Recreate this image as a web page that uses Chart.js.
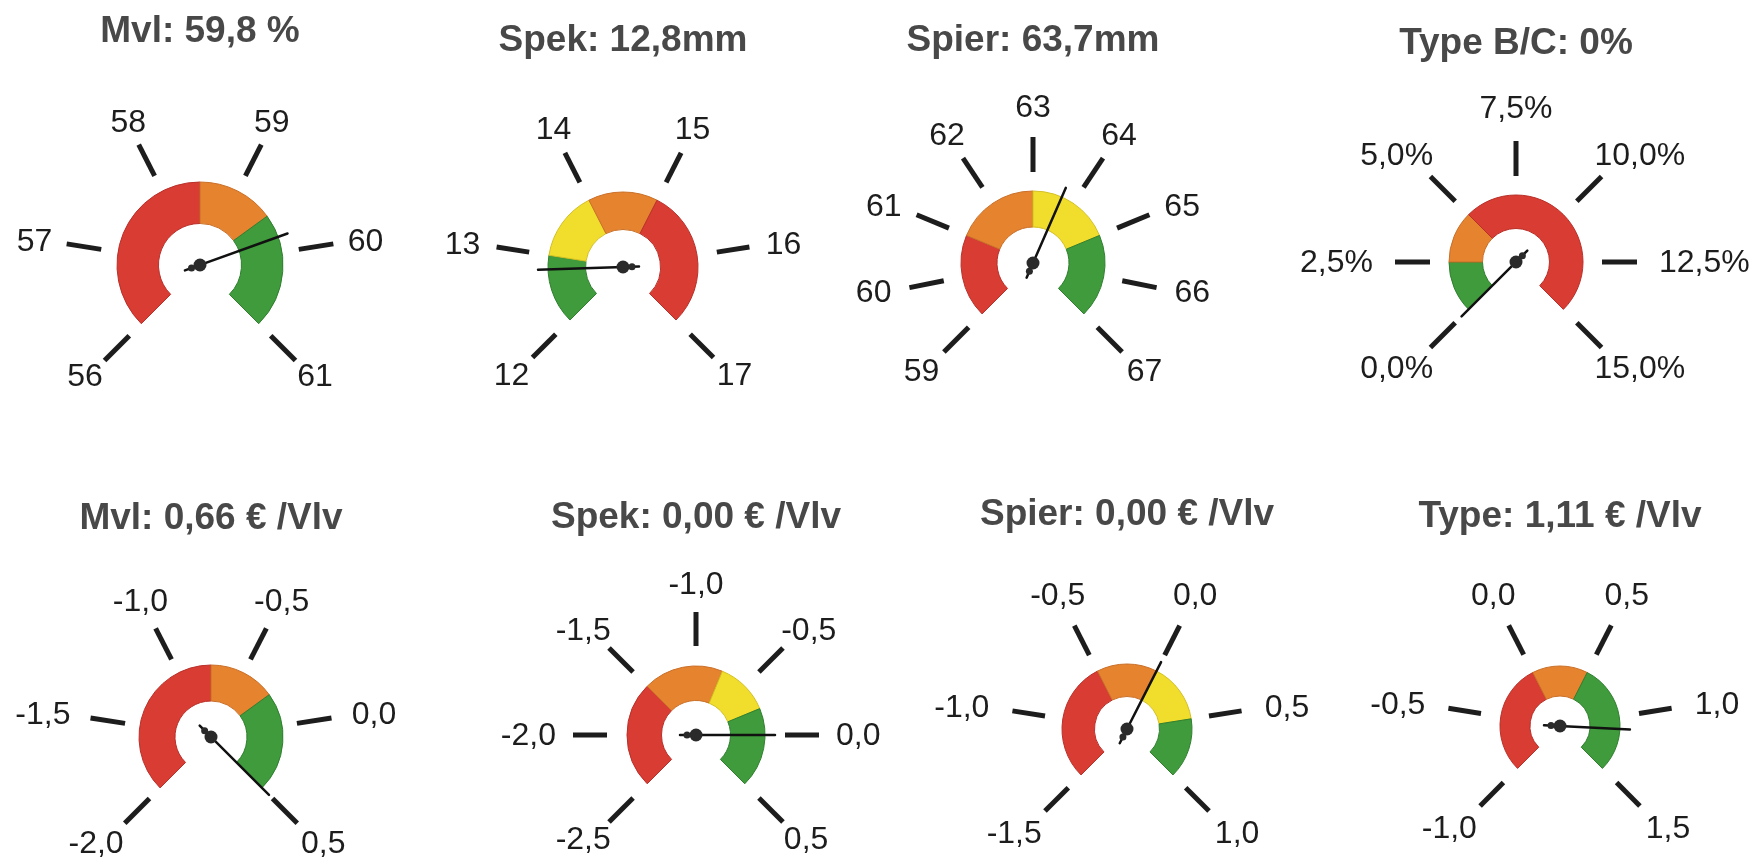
<!DOCTYPE html>
<html>
<head>
<meta charset="utf-8">
<title>Gauges</title>
<script src="https://cdn.jsdelivr.net/npm/chart.js@4.4.1/dist/chart.umd.min.js"></script>
<style>
  html, body { margin: 0; padding: 0; background: #fff; overflow: hidden; }
  #board { position: relative; width: 1753px; height: 868px; }
  #board canvas { position: absolute; }
</style>
</head>
<body>
<div id="board"></div>
<script>
// ---- data ----
const titles = [
  'Mvl: 59,8 %', 'Spek: 12,8mm', 'Spier: 63,7mm', 'Type B/C: 0%',
  'Mvl: 0,66 € /Vlv', 'Spek: 0,00 € /Vlv', 'Spier: 0,00 € /Vlv', 'Type: 1,11 € /Vlv'
];
const tickLabels = [
  ['56', '57', '58', '59', '60', '61'],
  ['12', '13', '14', '15', '16', '17'],
  ['59', '60', '61', '62', '63', '64', '65', '66', '67'],
  ['0,0%', '2,5%', '5,0%', '7,5%', '10,0%', '12,5%', '15,0%'],
  ['-2,0', '-1,5', '-1,0', '-0,5', '0,0', '0,5'],
  ['-2,5', '-2,0', '-1,5', '-1,0', '-0,5', '0,0', '0,5'],
  ['-1,5', '-1,0', '-0,5', '0,0', '0,5', '1,0'],
  ['-1,0', '-0,5', '0,0', '0,5', '1,0', '1,5']
];
const scaleMin = [56, 12, 59, 0, -2, -2.5, -1.5, -1];
const scaleMax = [61, 17, 67, 15, 0.5, 0.5, 1, 1.5];
// band edges from scale min to scale max
const bandBounds = [
  [56, 58.5, 59.5, 61],
  [12, 13, 14, 15, 17],
  [59, 61, 63, 65, 67],
  [0, 2.5, 5, 15],
  [-2, -0.75, -0.25, 0.5],
  [-2.5, -1.5, -0.75, -0.25, 0.5],
  [-1.5, -0.5, 0, 0.5, 1],
  [-1, 0, 0.5, 1.5]
];
const bandColors = [
  ['red', 'orange', 'green'],
  ['green', 'yellow', 'orange', 'red'],
  ['red', 'orange', 'yellow', 'green'],
  ['green', 'orange', 'red'],
  ['red', 'orange', 'green'],
  ['red', 'orange', 'yellow', 'green'],
  ['red', 'orange', 'yellow', 'green'],
  ['red', 'orange', 'green']
];
const needleValues = [59.8, 12.8, 63.7, 0, 0.66, 0, 0, 1.11];

// ---- look ----
const palette = {
  red:    ['#d93c32', '#b8302a'],
  orange: ['#e6832f', '#c96f28'],
  yellow: ['#f1de2c', '#d2bf22'],
  green:  ['#3f9b3c', '#2f7f2e']
};

// gauge centre, radius and ring geometry in page pixels
const layout = [
  { cx: 200,  cy: 265, r: 83, tickIn: 100, tickOut: 135, labelR: 150, titleY: 32 },
  { cx: 623,  cy: 267, r: 75, tickIn: 95,  tickOut: 128, labelR: 145, titleY: 41 },
  { cx: 1033, cy: 263, r: 72, tickIn: 91,  tickOut: 126, labelR: 145, titleY: 41 },
  { cx: 1516, cy: 262, r: 67, tickIn: 86,  tickOut: 121, labelR: 143, titleY: 44 },
  { cx: 211,  cy: 737, r: 72, tickIn: 87,  tickOut: 122, labelR: 143, titleY: 519 },
  { cx: 696,  cy: 735, r: 69, tickIn: 89,  tickOut: 123, labelR: 140, titleY: 518 },
  { cx: 1127, cy: 729, r: 65, tickIn: 83,  tickOut: 116, labelR: 140, titleY: 515 },
  { cx: 1560, cy: 726, r: 60, tickIn: 80,  tickOut: 113, labelR: 137, titleY: 517 }
];

const ROW_H = 434;
const CANVAS_W = 470;
const TITLE_SIZE = 37;
const LABEL_SIZE = 32;
const FONT = '"Liberation Sans", Arial, Helvetica, sans-serif';
// a 270deg doughnut is pushed down by this fraction of its radius
const SHIFT_Y = (1 - Math.SQRT1_2) / 2;

const gaugeDecor = {
  id: 'gaugeDecor',
  afterDatasetsDraw(chart, args, opts) {
    const g = opts.gauge;
    const geo = layout[g];
    const arcs = chart.getDatasetMeta(0).data;
    const first = arcs[0], last = arcs[arcs.length - 1];
    const cx = first.x, cy = first.y;
    const a0 = first.startAngle, a1 = last.endAngle;
    const lo = scaleMin[g], hi = scaleMax[g];
    const angleOf = v => a0 + (Math.min(hi, Math.max(lo, v)) - lo) / (hi - lo) * (a1 - a0);
    const ctx = chart.ctx;
    ctx.save();

    // ticks + labels
    const labels = tickLabels[g];
    ctx.font = LABEL_SIZE + 'px ' + FONT;
    ctx.textAlign = 'center';
    ctx.textBaseline = 'middle';
    labels.forEach((txt, i) => {
      const a = angleOf(lo + i * (hi - lo) / (labels.length - 1));
      const dx = Math.cos(a), dy = Math.sin(a);
      ctx.strokeStyle = '#1d1d1d';
      ctx.lineWidth = 5;
      ctx.lineCap = 'butt';
      ctx.beginPath();
      ctx.moveTo(cx + dx * geo.tickIn, cy + dy * geo.tickIn);
      ctx.lineTo(cx + dx * geo.tickOut, cy + dy * geo.tickOut);
      ctx.stroke();
      const w = ctx.measureText(txt).width;
      ctx.fillStyle = '#1d1d1d';
      ctx.fillText(txt, cx + dx * (geo.labelR + w / 2 * Math.abs(dx)), cy + dy * (geo.labelR + 11 * Math.abs(dy)) + 1);
    });

    // needle
    const na = angleOf(needleValues[g]);
    const nx = Math.cos(na), ny = Math.sin(na);
    ctx.strokeStyle = '#111';
    ctx.lineCap = 'round';
    ctx.lineWidth = 2.5;
    ctx.beginPath();
    ctx.moveTo(cx - nx * 16, cy - ny * 16);
    ctx.lineTo(cx + nx * (geo.r + 10), cy + ny * (geo.r + 10));
    ctx.stroke();
    ctx.fillStyle = '#2a2a2a';
    ctx.beginPath();
    ctx.arc(cx, cy, 6.5, 0, Math.PI * 2);
    ctx.fill();
    ctx.beginPath();
    ctx.arc(cx - nx * 9, cy - ny * 9, 3.5, 0, Math.PI * 2);
    ctx.fill();
    ctx.restore();
  }
};

const board = document.getElementById('board');

titles.forEach((title, g) => {
  const geo = layout[g];
  const rowTop = geo.cy > ROW_H ? ROW_H : 0;
  const canvas = document.createElement('canvas');
  canvas.width = CANVAS_W;
  canvas.height = ROW_H;
  canvas.style.left = (geo.cx - CANVAS_W / 2) + 'px';
  canvas.style.top = rowTop + 'px';
  board.appendChild(canvas);

  // title box sits on top; pad below it so the arc centre lands on geo.cy
  const lineH = TITLE_SIZE * 1.2;
  const padTop = geo.titleY - rowTop - lineH / 2;
  const areaTop = 2 * (geo.cy - rowTop - SHIFT_Y * geo.r) - ROW_H;
  const padBottom = areaTop - padTop - lineH;

  const bounds = bandBounds[g];
  const spans = bounds.slice(1).map((b, i) => b - bounds[i]);

  new Chart(canvas.getContext('2d'), {
    type: 'doughnut',
    data: {
      labels: bandColors[g],
      datasets: [{
        data: spans,
        backgroundColor: bandColors[g].map(c => palette[c][0]),
        borderColor: bandColors[g].map(c => palette[c][1]),
        borderWidth: 1
      }]
    },
    options: {
      responsive: false,
      animation: false,
      events: [],
      rotation: -135,
      circumference: 270,
      cutout: '50%',
      radius: geo.r,
      plugins: {
        legend: { display: false },
        tooltip: { enabled: false },
        title: {
          display: true,
          text: title,
          color: '#484848',
          font: { size: TITLE_SIZE, weight: 'bold', family: FONT },
          padding: { top: padTop, bottom: padBottom }
        },
        gaugeDecor: { gauge: g }
      }
    },
    plugins: [gaugeDecor]
  });
});
</script>
</body>
</html>
